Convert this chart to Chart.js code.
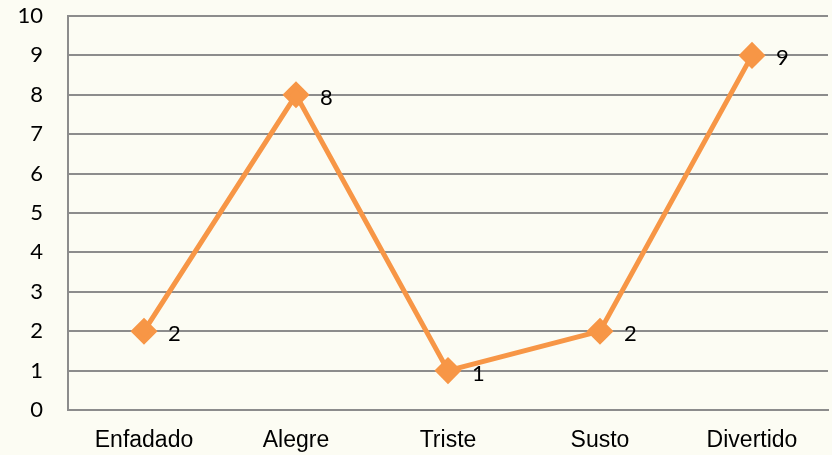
<!DOCTYPE html>
<html>
<head>
<meta charset="utf-8">
<script src="https://cdn.jsdelivr.net/npm/chart.js@4.4.0/dist/chart.umd.min.js"></script>
<style>
    body { margin: 0; background: #fcfcf3; }
    #wrap { width: 832px; height: 455px; position: relative; }
</style>
</head>
<body>
<div id="wrap"><canvas id="emotionChart"></canvas></div>
<script>
const categories = ['Enfadado', 'Alegre', 'Triste', 'Susto', 'Divertido'];
const values = [2, 8, 1, 2, 9];
const yTicks = [0, 1, 2, 3, 4, 5, 6, 7, 8, 9, 10];

// draws the value next to each point
const valueLabels = {
    id: 'valueLabels',
    afterDatasetsDraw(chart) {
        const ctx = chart.ctx;
        const meta = chart.getDatasetMeta(0);
        ctx.save();
        ctx.font = '22px Lato, "Open Sans", sans-serif';
        ctx.fillStyle = '#000';
        ctx.textBaseline = 'middle';
        ctx.textAlign = 'left';
        meta.data.forEach((pt, i) => {
            ctx.fillText(values[i], pt.x + 24, pt.y + 3);
        });
        ctx.restore();
    }
};

const ctx = document.getElementById('emotionChart').getContext('2d');
new Chart(ctx, {
    type: 'line',
    data: {
        labels: categories,
        datasets: [{
            data: values,
            borderColor: '#f79646',
            backgroundColor: '#f79646',
            borderWidth: 5,
            pointStyle: 'rectRot',
            pointRadius: 10,
            pointHoverRadius: 10,
            tension: 0
        }]
    },
    options: {
        responsive: true,
        maintainAspectRatio: false,
        animation: false,
        layout: { autoPadding: false, padding: { top: 16, right: 4, left: 0, bottom: 0 } },
        plugins: {
            legend: { display: false },
            tooltip: { enabled: false }
        },
        scales: {
            x: {
                offset: true,
                grid: { display: false, drawTicks: false },
                border: { color: '#8c8c8c', width: 2 },
                ticks: {
                    color: '#000',
                    font: { family: '"Liberation Sans", Arial, sans-serif', size: 23 },
                    padding: 17,
                    maxRotation: 0
                },
                afterFit(scale) {
                    scale.height = 45;
                    scale.paddingLeft = 0;
                    scale.paddingRight = 0;
                }
            },
            y: {
                min: 0,
                max: 10,
                afterBuildTicks(scale) { scale.ticks = yTicks.map(v => ({ value: v })); },
                grid: { color: '#8c8c8c', lineWidth: 2, drawTicks: false },
                border: { color: '#8c8c8c', width: 2 },
                ticks: {
                    color: '#000',
                    font: { family: 'Lato, "Open Sans", sans-serif', size: 22 },
                    padding: 25
                },
                afterFit(scale) {
                    scale.width = 68;
                    scale.paddingTop = 0;
                    scale.paddingBottom = 0;
                }
            }
        }
    },
    plugins: [valueLabels]
});
</script>
</body>
</html>
